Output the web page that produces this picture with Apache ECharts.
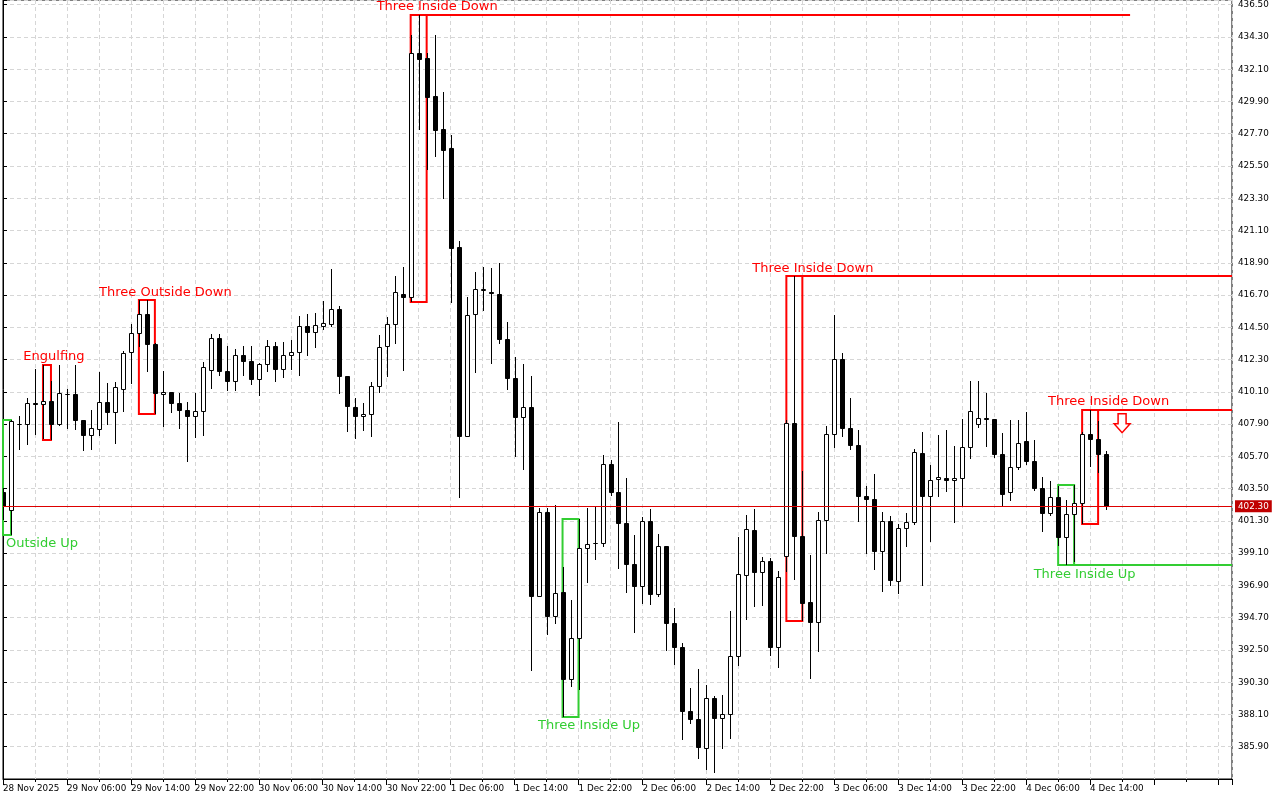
<!DOCTYPE html>
<html><head><meta charset="utf-8">
<script src="https://cdn.jsdelivr.net/npm/echarts@6/dist/echarts.min.js"></script>
<style>html,body{margin:0;padding:0;background:#fff}#c{width:1280px;height:800px}</style>
</head><body><div id="c"></div>
<script>
// ---- data ----
const timeLabels = ['28 Nov 2025','29 Nov 06:00','29 Nov 14:00','29 Nov 22:00','30 Nov 06:00','30 Nov 14:00','30 Nov 22:00','1 Dec 06:00','1 Dec 14:00','1 Dec 22:00','2 Dec 06:00','2 Dec 14:00','2 Dec 22:00','3 Dec 06:00','3 Dec 14:00','3 Dec 22:00','4 Dec 06:00','4 Dec 14:00'];
const opens = [403.30,402.07,407.93,407.91,409.33,409.27,409.48,407.91,409.97,409.97,408.18,407.16,407.57,409.41,408.73,410.29,412.79,414.11,415.42,413.36,409.95,410.09,409.34,408.88,408.43,408.78,411.59,413.77,411.54,410.81,412.63,412.22,410.95,412.00,413.22,411.66,412.61,412.81,414.59,414.18,414.59,414.72,415.74,411.18,409.07,408.45,408.59,410.50,413.22,414.72,416.77,416.56,433.23,432.85,430.28,428.03,426.74,419.97,407.06,415.40,417.06,416.90,416.79,413.70,411.06,408.39,409.07,396.16,401.91,394.80,396.46,390.53,393.33,399.43,399.77,399.80,405.18,403.27,401.16,398.37,396.89,401.32,396.32,399.57,394.35,392.71,388.33,387.76,385.83,389.24,387.88,388.15,392.10,397.62,400.71,397.80,398.57,392.71,398.93,407.98,400.30,395.75,394.39,401.37,407.25,412.34,407.64,406.45,403.00,402.80,399.23,401.29,397.18,400.82,401.23,405.93,402.98,404.16,404.23,404.09,404.20,406.34,407.91,408.29,408.25,405.86,403.25,404.98,406.75,405.39,403.55,401.83,402.93,400.21,401.78,402.53,407.25,406.89,405.86];
const highs = [403.57,408.17,408.47,409.68,411.68,411.95,410.86,411.90,410.31,411.90,408.20,408.84,411.45,410.70,410.74,412.90,414.72,416.33,416.33,413.45,411.49,410.11,410.02,409.41,410.02,412.11,414.04,414.04,413.20,413.04,413.24,413.24,412.07,413.65,413.52,413.52,413.65,415.29,415.42,415.49,416.31,418.49,415.92,411.18,409.65,409.31,410.79,413.97,415.20,417.99,418.63,434.44,435.80,433.19,434.44,430.57,427.62,420.40,416.58,418.29,418.63,418.52,418.90,414.88,412.49,412.02,411.15,402.21,402.21,402.41,398.14,395.89,401.44,402.16,402.29,405.82,405.43,408.07,404.20,400.37,401.57,402.14,400.43,399.62,395.37,392.94,389.92,391.21,390.08,389.35,389.40,395.19,400.23,401.73,402.14,398.85,398.78,397.91,408.20,417.97,404.68,398.95,401.91,407.79,415.36,412.75,409.68,407.52,403.66,404.50,401.91,401.61,401.09,401.84,406.23,407.36,405.14,407.18,407.52,406.43,408.25,410.86,410.86,410.02,408.27,407.30,408.20,408.20,408.73,406.84,404.30,404.05,403.66,402.75,403.77,407.38,408.88,408.09,406.09];
const lows = [401.39,400.37,406.11,406.45,407.18,406.91,406.84,407.75,407.57,407.52,406.04,406.16,407.06,407.81,406.55,408.75,410.63,413.18,411.45,408.61,407.68,408.66,407.59,405.29,406.93,407.06,410.29,411.20,410.13,410.13,411.15,410.54,409.79,411.42,410.74,411.02,411.56,411.15,412.52,413.06,414.33,414.52,409.93,407.34,406.86,407.40,407.00,410.02,411.08,413.33,411.51,416.24,427.96,425.24,426.10,423.24,416.19,402.87,407.01,411.37,415.58,411.98,413.34,410.20,405.65,404.80,391.05,396.14,393.50,394.28,387.96,389.99,389.80,397.07,398.61,399.53,403.02,398.03,396.39,393.67,395.62,395.55,396.12,392.41,391.46,386.35,387.47,385.08,384.28,384.13,385.76,386.40,391.39,394.53,395.41,395.53,392.07,391.27,397.80,397.25,394.44,390.53,392.37,399.05,406.27,407.00,406.16,401.20,399.05,397.98,396.46,396.84,396.33,399.53,401.05,396.84,399.84,402.91,403.25,401.16,402.29,405.52,407.61,406.34,405.59,402.25,402.64,404.80,405.14,403.32,400.52,401.61,399.57,398.27,398.53,401.09,404.95,404.57,402.02];
const closes = [402.34,408.09,407.88,409.34,409.29,409.48,407.91,410.02,409.95,408.18,407.16,407.64,409.41,408.73,410.43,412.75,414.11,415.42,413.36,409.99,410.09,409.34,408.84,408.43,408.79,411.79,413.77,411.49,410.81,412.61,412.17,410.95,412.00,413.22,411.66,412.61,412.81,414.59,414.18,414.65,414.79,415.74,411.15,409.14,408.45,408.61,410.50,413.16,414.72,416.90,416.56,433.19,432.82,430.23,427.96,426.60,419.94,407.06,415.34,417.11,417.08,416.84,413.70,411.02,408.37,409.07,396.16,401.91,394.80,396.39,390.49,393.33,399.43,399.73,399.79,405.18,403.27,401.16,398.37,396.84,401.32,396.32,399.57,394.35,392.69,388.33,387.76,385.90,389.24,387.88,388.15,392.10,397.69,400.75,397.80,398.57,392.71,397.48,407.98,400.30,395.71,394.39,401.37,407.25,412.34,407.64,406.45,402.98,402.80,399.23,401.29,397.25,400.82,401.23,406.00,402.98,404.09,404.30,404.09,404.23,406.34,408.79,408.32,408.22,405.86,403.11,404.98,406.61,405.39,403.53,401.83,402.93,400.21,401.78,402.53,407.25,406.89,405.86,402.30];
const patternNames = ['Outside Up','Engulfing','Three Outside Down','Three Inside Down','Three Inside Up','Three Inside Down','Three Inside Up','Three Inside Down'];
const patternSide  = ['bull','bear','bear','bear','bull','bear','bull','bear'];
const patternStart = [0,5,17,51,70,98,132,135];
const patternEnd   = [1,6,19,53,72,100,134,137];
const patternLineTo = [null,null,null,141,null,'edge','edge','edge'];
const signalIndex = [140];
const signalPrice = [408.61];
const currentPrice = 402.30;

// ---- layout / style ----
const X_MAX = 153.75, Y_MIN = 383.70, Y_MAX = 436.82, Y_STEP = 2.2;
const RED = '#ff0000', GREEN = '#32cd32';
const GRIDC = '#d6d6d6';
const AXFONT = 'DejaVu Sans';
const AXSIZE = 8.8;

const mctx = document.createElement('canvas').getContext('2d');
mctx.font = '13px "DejaVu Sans"';
const measure = t => mctx.measureText(t).width;
function rangeHigh(s,e){let m=-Infinity;for(let i=s;i<=e;i++)m=Math.max(m,highs[i]);return m;}
function rangeLow(s,e){let m=Infinity;for(let i=s;i<=e;i++)m=Math.min(m,lows[i]);return m;}

const candleData = opens.map((o,i)=>[i,o,closes[i],lows[i],highs[i]]);

function renderCandle(params, api){
  const i = api.value(0), o = api.value(1), c = api.value(2), l = api.value(3), h = api.value(4);
  const pO = api.coord([i,o]), pC = api.coord([i,c]), pL = api.coord([i,l]), pH = api.coord([i,h]);
  const x = Math.round(pO[0]);
  const top = Math.round(Math.min(pO[1],pC[1])), bot = Math.round(Math.max(pO[1],pC[1]));
  const bull = c >= o;
  return {type:'group', children:[
    {type:'line', shape:{x1:x+0.5,y1:Math.round(pH[1]),x2:x+0.5,y2:Math.round(pL[1])}, style:{stroke:'#000',lineWidth:1}},
    {type:'rect', shape:{x:x-1.5,y:top+0.5,width:4,height:Math.max(bot-top,0)}, style:{fill:bull?'#fff':'#000',stroke:'#000',lineWidth:1}}
  ]};
}

function renderPattern(params, api){
  const k = params.dataIndex;
  const s = patternStart[k], e = patternEnd[k];
  const hi = rangeHigh(s,e), lo = rangeLow(s,e);
  const pTL = api.coord([s,hi]), pBR = api.coord([e,lo]);
  const bull = patternSide[k]==='bull';
  const color = bull ? GREEN : RED;
  const cs = params.coordSys;
  const children = [{type:'rect', shape:{x:pTL[0],y:Math.round(pTL[1]),width:pBR[0]-pTL[0],height:Math.round(pBR[1])-Math.round(pTL[1])}, style:{fill:'transparent',stroke:color,lineWidth:2}}];
  const lt = patternLineTo[k];
  if (lt !== null){
    const yLine = Math.round(bull ? pBR[1] : pTL[1]);
    const xEnd = lt==='edge' ? cs.x+cs.width : api.coord([lt,hi])[0];
    children.push({type:'line', shape:{x1:pBR[0],y1:yLine,x2:xEnd,y2:yLine}, style:{stroke:color,lineWidth:2}});
  }
  const name = patternNames[k];
  const w = measure(name);
  const cx = (pTL[0]+pBR[0])/2 + (e-s>=2 ? 18.5 : 7);
  const left = Math.max(cx - w/2, cs.x + 3);
  const ty = bull ? pBR[1] + 9 : pTL[1] - 8;
  children.push({type:'text', style:{text:name,x:left,y:ty,fill:color,font:'13px "DejaVu Sans"',align:'left',verticalAlign:'middle',textAlign:'left',textVerticalAlign:'middle'}});
  return {type:'group', children};
}

function renderSignal(params, api){
  const p = api.coord([api.value(0), api.value(1)]);
  const cx = p[0], t = p[1];
  return {type:'polygon', shape:{points:[[cx-4,t],[cx+4,t],[cx+4,t+10],[cx+8,t+10],[cx,t+19],[cx-8,t+10],[cx-4,t+10]]}, style:{fill:'#fff',stroke:RED,lineWidth:1.5}};
}

const chart = echarts.init(document.getElementById('c'), null, {renderer:'canvas'});
chart.setOption({
  animation:false,
  backgroundColor:'#fff',
  grid:{left:2,right:48,top:0,bottom:21,show:true,borderColor:'#000',borderWidth:1,backgroundColor:'transparent'},
  xAxis:{type:'value',min:0,max:X_MAX,interval:8,
    axisLine:{show:true,onZero:false,lineStyle:{color:'#000',width:1}},
    axisTick:{show:true,length:6,lineStyle:{color:'#000'}},
    minorTick:{show:true,splitNumber:2,length:3,lineStyle:{color:'#000'}},
    splitLine:{show:true,lineStyle:{color:GRIDC,type:[4,3]}},
    minorSplitLine:{show:true,lineStyle:{color:GRIDC,type:[4,3]}},
    axisLabel:{align:'left',margin:5,color:'#000',fontFamily:AXFONT,fontSize:AXSIZE,
      formatter:v=>{const k=v/8;if(Math.abs(k-Math.round(k))>1e-6)return '';return timeLabels[Math.round(k)]||'';}}
  },
  yAxis:{type:'value',position:'right',min:Y_MIN,max:Y_MAX,interval:Y_STEP,scale:true,
    axisLine:{show:true,lineStyle:{color:'#000',width:1}},
    axisTick:{show:true,length:4,lineStyle:{color:'#000'}},
    splitLine:{show:true,lineStyle:{color:GRIDC,type:[4,3]}},
    axisLabel:{margin:6,color:'#000',fontFamily:AXFONT,fontSize:AXSIZE,
      formatter:v=>{const k=(v-Y_MIN)/Y_STEP;if(Math.abs(k-Math.round(k))>1e-4||Math.round(k)<1)return '';return v.toFixed(2);}}
  },
  series:[
    {type:'line',data:[],silent:true,z:1,
      markLine:{silent:true,symbol:['none','none'],animation:false,
        lineStyle:{color:'#dd0000',width:1,type:'solid'},
        label:{show:true,position:'end',formatter:()=>currentPrice.toFixed(2),color:'#fff',backgroundColor:'#c00000',padding:[2,3,1,3],fontFamily:AXFONT,fontSize:AXSIZE,distance:3},
        emphasis:{disabled:true},
        data:[{yAxis:currentPrice}]}},
    {type:'custom',name:'patterns',z:2,silent:true,renderItem:renderPattern,
      data:patternStart.map((s,k)=>[s,rangeHigh(s,patternEnd[k])]),encode:{x:0,y:1}},
    {type:'custom',name:'candles',z:3,silent:true,clip:true,renderItem:renderCandle,
      data:candleData,encode:{x:0,y:[1,2,3,4]}},
    {type:'custom',name:'signals',z:4,silent:true,renderItem:renderSignal,
      data:signalIndex.map((s,k)=>[s,signalPrice[k]]),encode:{x:0,y:1}}
  ]
});
</script></body></html>
